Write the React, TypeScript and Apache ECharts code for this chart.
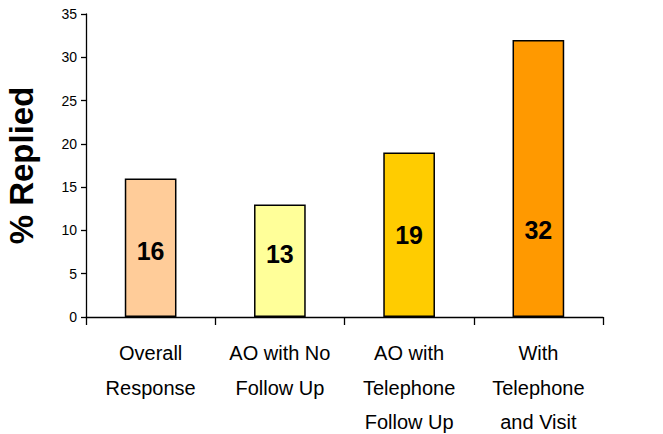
import React, { useEffect, useRef } from "react";
import * as echarts from "echarts";

const categories = [
  "Overall\nResponse",
  "AO with No\nFollow Up",
  "AO with\nTelephone\nFollow Up",
  "With\nTelephone\nand Visit",
];
const values = [16, 13, 19, 32];
const barColors = ["#FFCC99", "#FFFF99", "#FFCC00", "#FF9900"];
const labelLift = [54, 51, 70, 75];
const yTicks = { min: 0, max: 35, interval: 5 };
const yTitle = "% Replied";

const FONT = "'Liberation Sans', Arial, Helvetica, sans-serif";

export default function App() {
  const ref = useRef<HTMLDivElement>(null);
  useEffect(() => {
    if (!ref.current) return;
    const chart = echarts.init(ref.current, null, { renderer: "svg" });
    chart.setOption({
      animation: false,
      backgroundColor: "#ffffff",
      textStyle: { fontFamily: FONT },
      grid: {
        left: 86,
        right: 60,
        top: 14,
        bottom: 117,
        containLabel: false,
        outerBoundsMode: "none",
      },
      xAxis: {
        type: "category",
        data: categories,
        axisLine: { show: true, lineStyle: { color: "#000", width: 1.3 } },
        axisTick: { show: true, length: 8, lineStyle: { color: "#000", width: 1.3 } },
        axisLabel: {
          color: "#000",
          fontSize: 20,
          lineHeight: 34.5,
          margin: 19,
          fontFamily: FONT,
          interval: 0,
        },
        splitLine: { show: false },
      },
      yAxis: {
        type: "value",
        min: yTicks.min,
        max: yTicks.max,
        interval: yTicks.interval,
        name: yTitle,
        nameLocation: "middle",
        nameRotate: 90,
        nameGap: 48,
        nameTextStyle: { color: "#000", fontSize: 33, fontWeight: "bold", fontFamily: FONT },
        axisLine: { show: true, lineStyle: { color: "#000", width: 1.3 } },
        axisTick: { show: true, length: 5, lineStyle: { color: "#000", width: 1.3 } },
        axisLabel: { color: "#000", fontSize: 14, margin: 9, fontFamily: FONT },
        splitLine: { show: false },
      },
      series: [
        {
          type: "bar",
          barWidth: "40%",
          data: values.map((v, i) => ({
            value: v,
            itemStyle: { color: barColors[i], borderColor: "#000", borderWidth: 1.5 },
            label: {
              show: true,
              position: "insideBottom",
              distance: labelLift[i],
              color: "#000",
              fontSize: 25,
              fontWeight: "bold",
              fontFamily: FONT,
            },
          })),
        },
      ],
    });
    return () => chart.dispose();
  }, []);
  return (
    <div
      ref={ref}
      style={{ position: "fixed", left: 0, top: 0, width: 663, height: 434, background: "#fff" }}
    />
  );
}
